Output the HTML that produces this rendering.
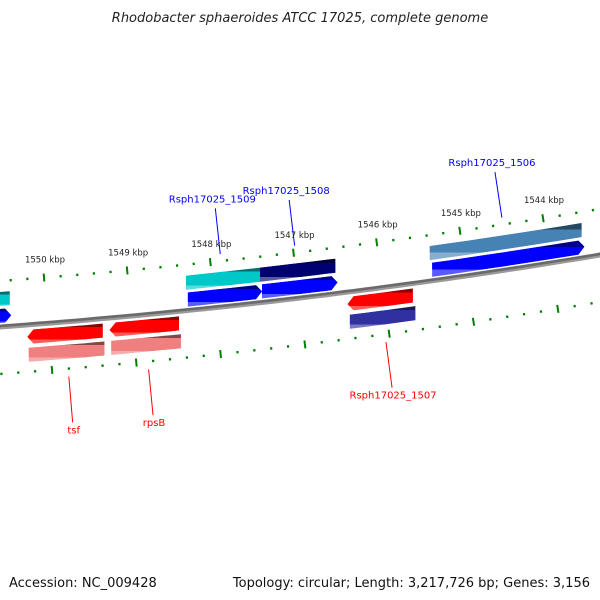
<!DOCTYPE html>
<html><head><meta charset="utf-8"><style>
html,body{margin:0;padding:0;background:#fff;}
svg{display:block;font-family:"DejaVu Sans","Liberation Sans",sans-serif;}
</style></head><body>
<svg id="chart" width="600" height="600" viewBox="0 0 600 600" xmlns="http://www.w3.org/2000/svg">
<defs>
</defs>
<text x="300" y="22" text-anchor="middle" font-size="13" font-style="italic" fill="#222">Rhodobacter sphaeroides ATCC 17025, complete genome</text>
<text x="9" y="587" font-size="13" fill="#111">Accession: NC_009428</text>
<text x="590" y="587" text-anchor="end" font-size="13" fill="#111">Topology: circular; Length: 3,217,726 bp; Genes: 3,156</text>
<g id="plot"></g>
</svg>
<script>
// feature data (bp)
const featNames = ['prev-gene','Rsph17025_1509','Rsph17025_1508','Rsph17025_1506','tsf','rpsB','Rsph17025_1507'];
const featStart = [1550900,1548315,1547428,1545392,1550258,1549277,1546440];
const featEnd   = [1550430,1547428,1546525,1543572,1549360,1548450,1545662];
const featStrand = [1,1,1,1,-1,-1,-1];
const geneColors = ['#00c8c8','#00c8c8','#000070','#4682b4','#f08080','#f08080','#3030a0'];
const cdsColors  = ['#0000ff','#0000ff','#0000ff','#0000ff','#ff0000','#ff0000','#ff0000'];
const labelShow = [false,true,true,true,true,true,true];
const tickLabels = ['1544 kbp','1545 kbp','1546 kbp','1547 kbp','1548 kbp','1549 kbp','1550 kbp'];
const tickLabelKbp = [1544,1545,1546,1547,1548,1549,1550];

const NS='http://www.w3.org/2000/svg';
const plot=document.getElementById('plot');
const defs=document.querySelector('defs');
function Yb(x){return 298-0.12*(x-300)-7.8e-5*(x-300)*(x-300);}
function slope(x){return -0.12-2*7.8e-5*(x-300);}
function X(bp,r){const kbp=bp/1000;const x0=47.96+0.086*r;const s=83.73+0.01215*r;return x0+(1550-kbp)*s;}
function pt(bp,r){const x=X(bp,r);return [x,Yb(x)+r];}
function mk(tag,attrs){const e=document.createElementNS(NS,tag);for(const k in attrs)e.setAttribute(k,attrs[k]);return e;}
let gid=0;
function grad(color){
  const id='g'+(gid++);
  const g=mk('linearGradient',{id:id,x1:0,y1:0,x2:0,y2:1});
  const c=color;
  [[0,'#000',0.45],[0.18,'#000',0.45],[0.18,c,1],[0.8,c,1],[0.8,'#fff',0.35],[1,'#fff',0.35]].forEach(s=>{
    const st=mk('stop',{offset:s[0],'stop-color':s[1],'stop-opacity':s[2]});g.appendChild(st);
  });
  // base color layer handled by second shape
  defs.appendChild(g);return id;
}
function featShape(b1,b2,r,h,color,arrow,strand,name){
  const lo=Math.min(b1,b2),hi=Math.max(b1,b2);
  // left end is higher bp
  const xl=X(hi,r),xr=X(lo,r);
  const n=8,top=[],bot=[];
  const head=arrow?6:0;
  const xa=xl+(strand<0?head:0), xb=xr-(strand>0?head:0);
  for(let i=0;i<=n;i++){const x=xa+(xb-xa)*i/n;top.push([x,Yb(x)+r-h/2]);bot.push([x,Yb(x)+r+h/2]);}
  let pts=[];
  if(arrow&&strand<0){pts.push([xl,Yb(xl)+r]);}
  pts=pts.concat(top);
  if(arrow&&strand>0){pts.push([xr,Yb(xr)+r]);}
  pts=pts.concat(bot.reverse());
  const d=pts.map(p=>p[0].toFixed(1)+','+p[1].toFixed(1)).join(' ');
  const base=mk('polygon',{points:d,fill:color});
  
  
  plot.appendChild(base);
  const sh=mk('polygon',{points:d,fill:'url(#'+grad(color)+')'});
  
  
  plot.appendChild(sh);
}
// backbone
(function(){
  let d='';for(let x=-5;x<=605;x+=10){d+=(x===-5?'M':'L')+x+','+Yb(x).toFixed(1);}
  const p1=mk('path',{d:d,stroke:'#999',fill:'none','stroke-width':5});
  
  
  plot.appendChild(p1);
  let d2='';for(let x=-5;x<=605;x+=10){d2+=(x===-5?'M':'L')+x+','+(Yb(x)-1).toFixed(1);}
  const p2=mk('path',{d:d2,stroke:'#6a6a6a',fill:'none','stroke-width':2.5});
  
  
  plot.appendChild(p2);
})();
// ticks
function drawTicks(r,name,labels){
  for(let b=1543400;b<=1551000;b+=200){
    const x=X(b,r);if(x<-5||x>605)continue;
    const y=Yb(x)+r;const m=slope(x);const nx=m/Math.sqrt(1+m*m),ny=-1/Math.sqrt(1+m*m);
    const major=(b%1000===0);const L=major?4:1.2;
    const t=mk('line',{x1:x-nx*L,y1:y-ny*L,x2:x+nx*L,y2:y+ny*L,stroke:'#008000','stroke-width':major?2:2.2});
    
    
    plot.appendChild(t);
  }
  if(labels){
    tickLabelKbp.forEach((k,i)=>{
      const x=X(k*1000,r);const y=Yb(x)+r-15;
      const t=mk('text',{x:x+1,y:y,'text-anchor':'middle','font-size':8.5,fill:'#222'});
      t.textContent=tickLabels[i];
      
      
      plot.appendChild(t);
    });
  }
}
drawTicks(-46,'forward-scale',true);
drawTicks(47,'reverse-scale',false);
// features
featNames.forEach((nm,i)=>{
  const s=featStrand[i];
  const rGene=s>0?-28:30, rCds=s>0?-11:12;
  featShape(featStart[i],featEnd[i],rGene,14,geneColors[i],false,s,nm+'-gene');
  featShape(featStart[i],featEnd[i],rCds,14,cdsColors[i],true,s,nm+'-cds');
  if(!labelShow[i])return;
  const mid=(featStart[i]+featEnd[i])/2;
  const rl=s>0?-53:55;
  const x=X(mid,rl);const y=Yb(x)+rl;
  const m=slope(x);const nx=m/Math.sqrt(1+m*m),ny=-1/Math.sqrt(1+m*m);
  const dir=s>0?1:-1;const L=46;
  const x2=x+nx*L*dir,y2=y+ny*L*dir;
  const col=s>0?'#0000ff':'#ff0000';
  const ln=mk('line',{x1:x,y1:y,x2:x2,y2:y2,stroke:col,'stroke-width':1});
  
  
  plot.appendChild(ln);
  const tx=mk('text',{x:x2-(s>0?3:-1),y:s>0?y2-6:y2+11,'text-anchor':'middle','font-size':10,fill:col});
  tx.textContent=nm;
  
  
  plot.appendChild(tx);
});
</script>
</body></html>
